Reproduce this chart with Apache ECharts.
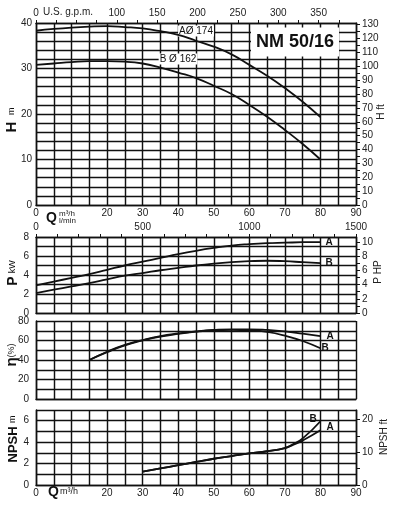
<!DOCTYPE html>
<html>
<head>
<meta charset="utf-8">
<script src="https://cdn.jsdelivr.net/npm/echarts@6/dist/echarts.min.js"></script>
<style>html,body{margin:0;padding:0;background:#fff}#c{width:395px;height:505px}</style>
</head>
<body>
<div id="c"></div>
<script>
// ---- data (flow Q in m3/h) ----
const qHead = [0,5,10,15,20,25,30,35,40,45,50,55,60,65,70,75,80];
const headA = [38.3,38.7,39.0,39.2,39.3,39.1,38.8,38.2,37.4,36.1,34.8,33.1,30.8,28.4,25.7,22.7,19.3];
const headB = [30.8,31.1,31.4,31.6,31.6,31.5,31.1,30.2,29.1,27.9,26.2,24.4,22.0,19.4,16.5,13.4,10.0];

const qPower = [0,5,10,15,20,25,30,35,40,45,50,55,60,65,70,75,80];
const powerA = [2.9,3.3,3.7,4.1,4.55,5.0,5.4,5.8,6.2,6.55,6.85,7.1,7.25,7.35,7.4,7.45,7.47];
const powerB = [2.1,2.45,2.8,3.15,3.55,3.93,4.2,4.5,4.75,5.0,5.2,5.35,5.45,5.5,5.45,5.35,5.25];

const qEff = [15,20,25,30,35,40,45,50,55,60,65,70,75,80];
const effA = [40,48.5,55.5,60.5,64.5,67.2,69.3,70.8,71.5,71.5,70.8,69.3,67,64.5];
const effB = [40,48,55,60,64,66.8,69,70.5,71,70.5,68.8,65,59.5,52];

const qNpsh = [30,35,40,45,50,55,60,65,70,72,75,80];
const npshA = [1.25,1.55,1.85,2.15,2.45,2.7,2.95,3.15,3.45,3.7,4.15,5.1];
const npshB = [1.25,1.55,1.85,2.15,2.45,2.7,2.95,3.15,3.45,3.75,4.35,5.95];

const qTickLabels = [0,20,30,40,50,60,70,80,90];
const gpmTickLabels = [0,100,150,200,250,300,350];
const lminTickLabels = [0,500,1000,1500];

// ---- helpers ----
const INK = '#111';
const TXT = '#222';
const FONT = 'Liberation Sans, Arial, sans-serif';
const zip = (xs, ys) => xs.map((x, i) => [x, ys[i]]);
const lbl = (extra) => Object.assign({color: TXT, fontSize: 10, fontFamily: FONT}, extra);
const lineSt = {color: INK, width: 1.45};

function qAxis(grid, showLabels) {
  return {
    type: 'value', gridIndex: grid, position: 'bottom', min: 0, max: 90, interval: 5,
    axisLine: {show: true, onZero: false, lineStyle: lineSt},
    axisTick: {show: false},
    splitLine: {show: true, lineStyle: lineSt},
    axisLabel: showLabels ? lbl({margin: 3, formatter: v => qTickLabels.includes(v) ? String(v) : ''}) : {show: false}
  };
}

const chart = echarts.init(document.getElementById('c'), null, {renderer: 'canvas'});

const option = {
  animation: false,
  backgroundColor: '#fff',
  grid: [
    {left: 36, top: 23, width: 320, height: 182},
    {left: 36, top: 237, width: 320, height: 76},
    {left: 36, top: 321, width: 320, height: 78},
    {left: 36, top: 410, width: 320, height: 75}
  ],
  xAxis: [
    qAxis(0, true),
    {
      type: 'value', gridIndex: 0, position: 'top', min: 0, max: 90 * 4.40287, interval: 25,
      axisLine: {show: true, onZero: false, lineStyle: lineSt},
      axisTick: {show: true, inside: false, length: 3, lineStyle: {color: INK, width: 1}},
      splitLine: {show: false},
      axisLabel: lbl({margin: 5, showMaxLabel: false, formatter: v => gpmTickLabels.includes(v) ? String(v) : ''})
    },
    qAxis(1, false),
    {
      type: 'value', gridIndex: 1, position: 'top', min: 0, max: 1500, interval: 100,
      axisLine: {show: true, onZero: false, lineStyle: lineSt},
      axisTick: {show: true, length: 3, lineStyle: {color: INK, width: 1}},
      splitLine: {show: false},
      axisLabel: lbl({margin: 5, formatter: v => lminTickLabels.includes(v) ? String(v) : ''})
    },
    qAxis(2, false),
    qAxis(3, true)
  ],
  yAxis: [
    {
      type: 'value', gridIndex: 0, position: 'left', min: 0, max: 40, interval: 2,
      axisLine: {show: true, onZero: false, lineStyle: lineSt}, axisTick: {show: false},
      splitLine: {show: true, lineStyle: lineSt},
      axisLabel: lbl({margin: 4, formatter: v => v % 10 === 0 ? String(v) : ''})
    },
    {
      type: 'value', gridIndex: 0, position: 'right', min: 0, max: 40 / 0.3048, interval: 5,
      axisLine: {show: true, onZero: false, lineStyle: lineSt},
      axisTick: {show: true, length: 4, lineStyle: {color: INK, width: 1}},
      splitLine: {show: false},
      axisLabel: lbl({margin: 6, showMaxLabel: false, formatter: v => (v % 10 === 0 && v <= 130) ? String(v) : ''})
    },
    {
      type: 'value', gridIndex: 1, position: 'left', min: 0, max: 8, interval: 1,
      axisLine: {show: true, onZero: false, lineStyle: lineSt}, axisTick: {show: false},
      splitLine: {show: true, lineStyle: lineSt},
      axisLabel: lbl({margin: 7, formatter: v => v % 2 === 0 ? String(v) : ''})
    },
    {
      type: 'value', gridIndex: 1, position: 'right', min: 0, max: 8 / 0.7457, interval: 1,
      axisLine: {show: true, onZero: false, lineStyle: lineSt},
      axisTick: {show: true, length: 4, lineStyle: {color: INK, width: 1}},
      splitLine: {show: false},
      axisLabel: lbl({margin: 6, showMaxLabel: false, formatter: v => (Number.isInteger(v) && v % 2 === 0) ? String(v) : ''})
    },
    {
      type: 'value', gridIndex: 2, position: 'left', min: 0, max: 80, interval: 10,
      axisLine: {show: true, onZero: false, lineStyle: lineSt}, axisTick: {show: false},
      splitLine: {show: true, lineStyle: lineSt},
      axisLabel: lbl({margin: 7, formatter: v => v % 20 === 0 ? String(v) : ''})
    },
    {
      type: 'value', gridIndex: 3, position: 'left', min: 0, max: 7, interval: 1,
      axisLine: {show: true, onZero: false, lineStyle: lineSt}, axisTick: {show: false},
      splitLine: {show: true, lineStyle: lineSt},
      axisLabel: lbl({margin: 7, showMaxLabel: false, formatter: v => (v % 2 === 0 && v < 7) ? String(v) : ''})
    },
    {
      type: 'value', gridIndex: 3, position: 'right', min: 0, max: 7 / 0.3048, interval: 5,
      axisLine: {show: true, onZero: false, lineStyle: lineSt},
      axisTick: {show: true, length: 4, lineStyle: {color: INK, width: 1}},
      splitLine: {show: false},
      axisLabel: lbl({margin: 6, showMaxLabel: false, formatter: v => (v % 10 === 0 && v <= 20) ? String(v) : ''})
    }
  ],
  series: [
    {type: 'line', xAxisIndex: 0, yAxisIndex: 0, data: zip(qHead, headA), smooth: true, showSymbol: false,
      lineStyle: {color: INK, width: 1.8}},
    {type: 'line', xAxisIndex: 0, yAxisIndex: 0, data: zip(qHead, headB), smooth: true, showSymbol: false,
      lineStyle: {color: INK, width: 1.8}},
    {type: 'line', xAxisIndex: 2, yAxisIndex: 2, data: zip(qPower, powerA), smooth: true, showSymbol: false,
      lineStyle: {color: INK, width: 1.8},
      endLabel: {show: true, formatter: 'A', distance: 5, fontWeight: 'bold', fontSize: 10, fontFamily: FONT, color: INK}},
    {type: 'line', xAxisIndex: 2, yAxisIndex: 2, data: zip(qPower, powerB), smooth: true, showSymbol: false,
      lineStyle: {color: INK, width: 1.8},
      endLabel: {show: true, formatter: 'B', distance: 5, fontWeight: 'bold', fontSize: 10, fontFamily: FONT, color: INK}},
    {type: 'line', xAxisIndex: 4, yAxisIndex: 4, data: zip(qEff, effA), smooth: true, showSymbol: false,
      lineStyle: {color: INK, width: 1.8},
      endLabel: {show: true, formatter: 'A', distance: 6, fontWeight: 'bold', fontSize: 10, fontFamily: FONT, color: INK}},
    {type: 'line', xAxisIndex: 4, yAxisIndex: 4, data: zip(qEff, effB), smooth: true, showSymbol: false,
      lineStyle: {color: INK, width: 1.8},
      endLabel: {show: true, formatter: 'B', distance: 1, fontWeight: 'bold', fontSize: 10, fontFamily: FONT, color: INK}},
    {type: 'line', xAxisIndex: 5, yAxisIndex: 5, data: zip(qNpsh, npshA), smooth: true, showSymbol: false,
      lineStyle: {color: INK, width: 1.8},
      endLabel: {show: true, formatter: 'A', distance: 6, offset: [0, -3], fontWeight: 'bold', fontSize: 10, fontFamily: FONT, color: INK}},
    {type: 'line', xAxisIndex: 5, yAxisIndex: 5, data: zip(qNpsh, npshB), smooth: true, showSymbol: false,
      lineStyle: {color: INK, width: 1.8},
      endLabel: {show: true, formatter: 'B', distance: 0, offset: [-11, -2], fontWeight: 'bold', fontSize: 10, fontFamily: FONT, color: INK}}
  ],
  graphic: [
    {type: 'text', z: 1, x: 295, y: 42, silent: true,
      style: {text: 'NM 50/16', font: 'bold 18px ' + FONT, fill: INK, align: 'center', verticalAlign: 'middle',
        backgroundColor: '#fff', padding: [6, 5, 5, 5]}},
    {type: 'text', z: 1, x: 196, y: 31, silent: true,
      style: {text: 'AØ 174', font: '10px ' + FONT, fill: INK, align: 'center', verticalAlign: 'middle',
        backgroundColor: '#fff', padding: [1, 1, 0, 1]}},
    {type: 'text', z: 1, x: 178, y: 59, silent: true,
      style: {text: 'B Ø 162', font: '10px ' + FONT, fill: INK, align: 'center', verticalAlign: 'middle',
        backgroundColor: '#fff', padding: [1, 1, 0, 1]}},
    {type: 'text', x: 43, y: 12, silent: true,
      style: {text: 'U.S. g.p.m.', font: '10px ' + FONT, fill: TXT, align: 'left', verticalAlign: 'middle'}},
    // Q label (upper)
    {type: 'text', x: 46, y: 218, silent: true,
      style: {text: 'Q', font: 'bold 14px ' + FONT, fill: INK, align: 'left', verticalAlign: 'middle'}},
    {type: 'text', x: 59, y: 214, silent: true,
      style: {text: 'm³/h', font: '8px ' + FONT, fill: TXT, align: 'left', verticalAlign: 'middle'}},
    {type: 'text', x: 59, y: 221, silent: true,
      style: {text: 'l/min', font: '8px ' + FONT, fill: TXT, align: 'left', verticalAlign: 'middle'}},
    // Q label (bottom)
    {type: 'text', x: 48, y: 492, silent: true,
      style: {text: 'Q', font: 'bold 14px ' + FONT, fill: INK, align: 'left', verticalAlign: 'middle'}},
    {type: 'text', x: 60, y: 492, silent: true,
      style: {text: 'm³/h', font: '9px ' + FONT, fill: TXT, align: 'left', verticalAlign: 'middle'}},
    // rotated axis names
    {type: 'text', x: 12, y: 120, rotation: Math.PI / 2, silent: true,
      style: {text: '{b|H}  {s|m}', align: 'center', verticalAlign: 'middle', fill: INK,
        rich: {b: {fontSize: 15, fontWeight: 'bold', fontFamily: FONT}, s: {fontSize: 9, fontFamily: FONT}}}},
    {type: 'text', x: 381, y: 112, rotation: Math.PI / 2, silent: true,
      style: {text: 'H ft', font: '10px ' + FONT, fill: TXT, align: 'center', verticalAlign: 'middle'}},
    {type: 'text', x: 13, y: 273, rotation: Math.PI / 2, silent: true,
      style: {text: '{b|P} {s|kW}', align: 'center', verticalAlign: 'middle', fill: INK,
        rich: {b: {fontSize: 14, fontWeight: 'bold', fontFamily: FONT}, s: {fontSize: 9, fontFamily: FONT}}}},
    {type: 'text', x: 378, y: 272, rotation: Math.PI / 2, silent: true,
      style: {text: 'P HP', font: '10px ' + FONT, fill: TXT, align: 'center', verticalAlign: 'middle'}},
    {type: 'text', x: 12, y: 355, rotation: Math.PI / 2, silent: true,
      style: {text: '{b|η}{s|(%)}', align: 'center', verticalAlign: 'middle', fill: INK,
        rich: {b: {fontSize: 15, fontWeight: 'bold', fontFamily: FONT}, s: {fontSize: 9, fontFamily: FONT}}}},
    {type: 'text', x: 13, y: 439, rotation: Math.PI / 2, silent: true,
      style: {text: '{b|NPSH} {s|m}', align: 'center', verticalAlign: 'middle', fill: INK,
        rich: {b: {fontSize: 13, fontWeight: 'bold', fontFamily: FONT}, s: {fontSize: 9, fontFamily: FONT}}}},
    {type: 'text', x: 384, y: 437, rotation: Math.PI / 2, silent: true,
      style: {text: 'NPSH ft', font: '10px ' + FONT, fill: TXT, align: 'center', verticalAlign: 'middle'}}
  ]
};
chart.setOption(option);
</script>
</body>
</html>
